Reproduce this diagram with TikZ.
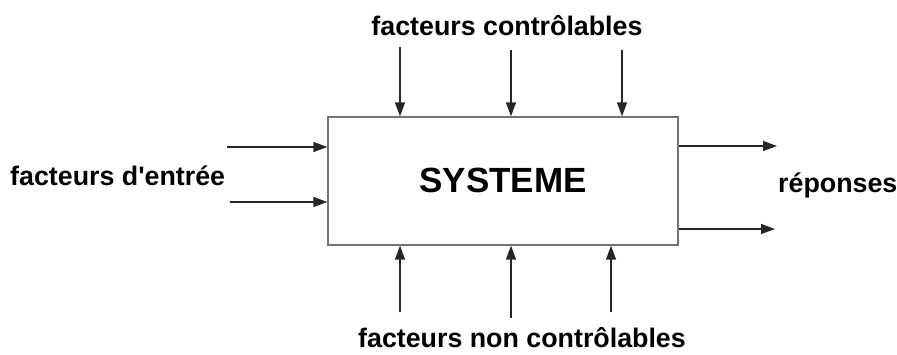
\documentclass[tikz,border=0pt]{standalone}
\usepackage{fontspec}
\setmainfont{Liberation Sans}[Ligatures=TeXOff]
\usetikzlibrary{arrows.meta}
\begin{document}
\begin{tikzpicture}[x=1pt,y=-1pt,
  lbl/.style={font=\bfseries\fontsize{26.8}{30}\selectfont, inner sep=0pt},
  arr/.style={-{Triangle[length=14pt,width=10pt]}, line width=1.4pt, black!85},
  boxst/.style={draw=black!55, line width=1.3pt, minimum width=350pt, minimum height=128pt, inner sep=0pt, fill=white}]
\useasboundingbox (0,0) rectangle (897,354);
\node[boxst] (sys) at (503,181) {};
\node[font=\bfseries\fontsize{35}{40}\selectfont, inner sep=0pt] (t) at (503,180) {SYSTEME};
\node[lbl] (top) at (507,26) {facteurs contrôlables};
\node[lbl] (bot) at (522,338) {facteurs non contrôlables};
\node[lbl, anchor=west] (in) at (10,176) {facteurs d'entrée};
\node[lbl, anchor=west] (out) at (778,185) {réponses};
% top arrows
\coordinate (t1) at (400,47); \coordinate (t2) at (511,50); \coordinate (t3) at (622,50);
\draw[arr] (t1) -- (t1 |- sys.north);
\draw[arr] (t2) -- (t2 |- sys.north);
\draw[arr] (t3) -- (t3 |- sys.north);
% bottom arrows
\coordinate (b1) at (400,312); \coordinate (b2) at (511,318); \coordinate (b3) at (611,312);
\draw[arr] (b1) -- (b1 |- sys.south);
\draw[arr] (b2) -- (b2 |- sys.south);
\draw[arr] (b3) -- (b3 |- sys.south);
% left arrows
\coordinate (l1) at (227,147); \coordinate (l2) at (230,202);
\draw[arr] (l1) -- (l1 -| sys.west);
\draw[arr] (l2) -- (l2 -| sys.west);
% right arrows
\coordinate (r1) at (777,146); \coordinate (r2) at (775,229);
\draw[arr] (r1 -| sys.east) -- (r1);
\draw[arr] (r2 -| sys.east) -- (r2);
\end{tikzpicture}
\end{document}
